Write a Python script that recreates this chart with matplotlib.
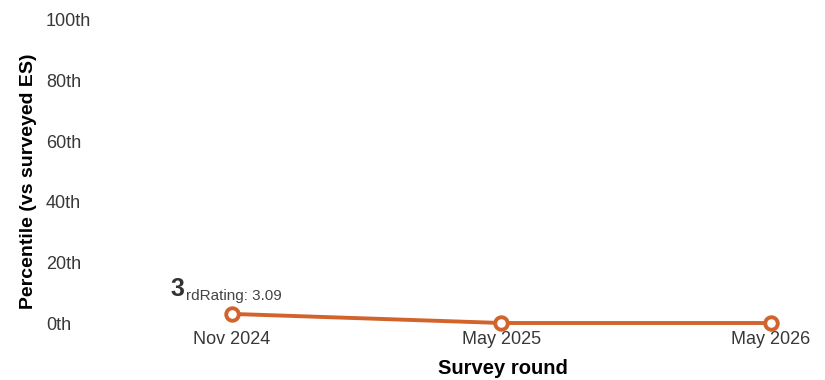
import matplotlib
matplotlib.use('Agg')
import matplotlib.pyplot as plt

# Survey rounds and percentile rank against surveyed ES
rounds = ['Nov 2024', 'May 2025', 'May 2026']
percentile = [3, 0, 0]
y_ticks = [0, 20, 40, 60, 80, 100]
y_tick_labels = ['0th', '20th', '40th', '60th', '80th', '100th']
rank_label = '3'
rank_suffix = 'rd'
rating_label = 'Rating: 3.09'

plt.rcParams['font.family'] = ['Liberation Sans', 'DejaVu Sans']

fig = plt.figure(figsize=(8.25, 3.8), dpi=100)
ax = fig.add_axes([100 / 825, 57 / 380, 710 / 825, 303 / 380])

line_color = '#d2632c'
x = list(range(len(rounds)))
ax.plot(x, percentile, color=line_color, linewidth=2.8, marker='o',
        markersize=9, markerfacecolor='white', markeredgecolor=line_color,
        markeredgewidth=2.8, clip_on=False, zorder=3)

ax.set_xlim(-0.49, 2.145)
ax.set_ylim(0, 100)
ax.set_xticks(x)
ax.set_xticklabels(rounds)
ax.set_yticks(y_ticks)
ax.set_yticklabels(y_tick_labels)

ax.tick_params(axis='x', length=0, pad=6, labelsize=13, labelcolor='#383838')
ax.tick_params(axis='y', length=0, pad=39, labelsize=13, labelcolor='#383838')
for lbl in ax.get_yticklabels():
    lbl.set_horizontalalignment('left')

for spine in ax.spines.values():
    spine.set_visible(False)

ax.set_xlabel('Survey round', fontsize=14.5, fontweight='bold')
ax.xaxis.set_label_coords(0.568, -0.149)
ax.xaxis.label.set_verticalalignment('center')
ax.set_ylabel('Percentile (vs surveyed ES)', fontsize=14, fontweight='bold')
ax.yaxis.set_label_coords(-0.101, 0.469)
ax.yaxis.label.set_verticalalignment('center')

# Rank annotation on the first round
ax.annotate(rank_label, xy=(x[0], percentile[0]), xytext=(-62, 18),
            textcoords='offset pixels', ha='left', va='baseline',
            fontsize=18, fontweight='bold', color='#333333')
ax.annotate(rank_suffix + rating_label, xy=(x[0], percentile[0]),
            xytext=(-46, 14), textcoords='offset pixels', ha='left',
            va='baseline', fontsize=11, color='#444444')

fig.savefig('out.png', dpi=100, facecolor='white')
